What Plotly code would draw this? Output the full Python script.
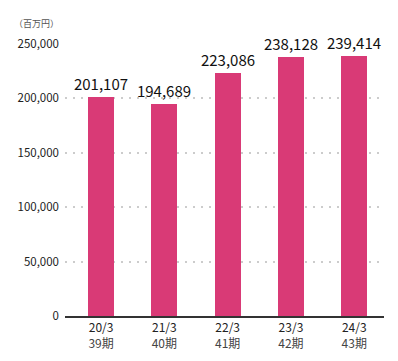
import plotly.graph_objects as go

periods = ["20/3", "21/3", "22/3", "23/3", "24/3"]
terms = ["39期", "40期", "41期", "42期", "43期"]
values = [201107, 194689, 223086, 238128, 239414]
y_ticks = [0, 50000, 100000, 150000, 200000, 250000]
unit_label = "（百万円）"

FONT = "Noto Sans CJK JP, Noto Sans, sans-serif"
BAR = "#d93a76"

x_idx = list(range(len(periods)))
tick_text = [f"{p}<br><span style='color:#444'>{t}</span>" for p, t in zip(periods, terms)]

fig = go.Figure(go.Bar(
    x=x_idx, y=values, width=0.41,
    marker=dict(color=BAR, line=dict(width=0)),
    text=[f"{v:,}" for v in values],
    textposition="outside",
    textangle=0,
    constraintext="none",
    textfont=dict(family=FONT, size=15, color="#111"),
    cliponaxis=False,
    hoverinfo="skip",
))

# page body has an 8px default margin, so the figure is drawn slightly smaller
fig.update_layout(
    width=390, height=353,
    margin=dict(l=57, r=14, t=36, b=45, autoexpand=False),
    paper_bgcolor="white", plot_bgcolor="white",
    font=dict(family=FONT, color="#222"),
    showlegend=False,
    bargap=0,
)
fig.update_xaxes(
    range=[-0.57, 4.47],
    tickmode="array", tickvals=x_idx, ticktext=tick_text,
    tickfont=dict(size=12, color="#222"),
    showline=True, linecolor="#333", linewidth=1.5,
    showgrid=False, zeroline=False, ticks="",
    automargin=False,
    fixedrange=True,
)
fig.update_yaxes(
    range=[0, 250000],
    tickmode="array", tickvals=y_ticks,
    ticktext=[f"{v:,}" for v in y_ticks],
    tickfont=dict(size=11.5, color="#222"),
    showgrid=True, gridcolor="#cccccc", gridwidth=2, griddash="2px,6px",
    zeroline=False, showline=False, ticks="",
    ticklabelstandoff=5,
    automargin=False,
    fixedrange=True,
)
fig.add_annotation(
    text=unit_label, xref="paper", yref="paper",
    x=-0.165, y=1.0, yshift=21, xanchor="left", yanchor="middle",
    showarrow=False, font=dict(family=FONT, size=9, color="#555"),
)

fig.write_html("out.html")
